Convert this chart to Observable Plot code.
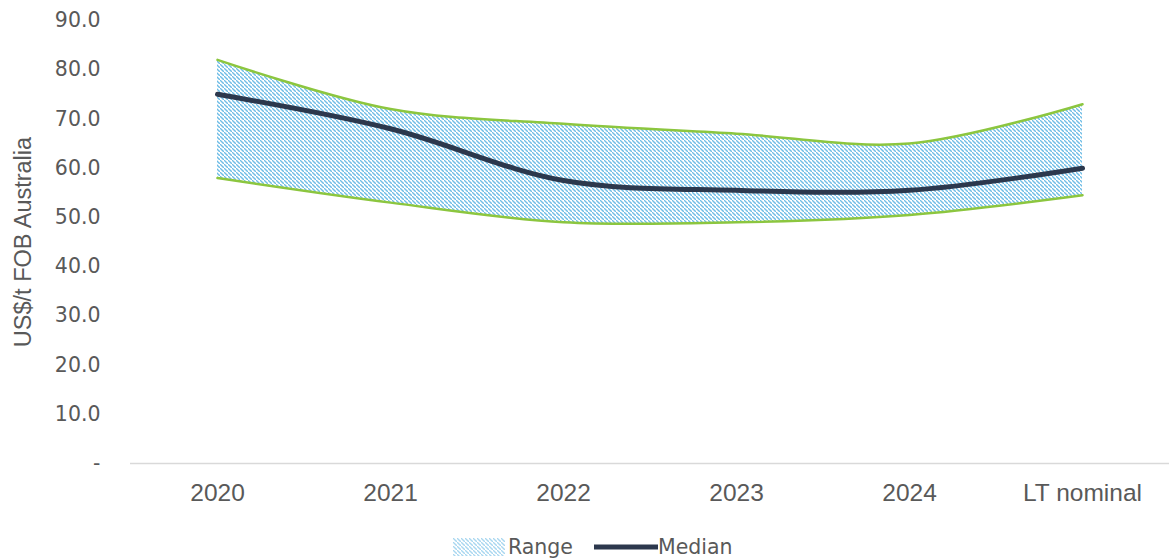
<!DOCTYPE html>
<html>
<head>
<meta charset="utf-8">
<script src="https://cdn.jsdelivr.net/npm/d3@7"></script>
<script src="https://cdn.jsdelivr.net/npm/@observablehq/plot@0.6"></script>
<style>
  html, body { margin: 0; padding: 0; background: #fff; }
  #wrap { position: relative; width: 1169px; height: 558px; overflow: hidden; }
  #legend { position: absolute; top: 536px; left: 453px; display: flex; align-items: center; height: 22px;
    font-family: "DejaVu Sans", Verdana, sans-serif; font-size: 20.5px; color: #595959; }
  #legend .item { display: flex; align-items: center; }
  #legend svg { display: block; }
</style>
</head>
<body>
<div id="wrap">
  <div id="chart"></div>
  <div id="legend">
    <div class="item"><svg width="52" height="18"><defs><pattern id="hatchL" patternUnits="userSpaceOnUse" width="4" height="4"><rect width="4" height="4" fill="#fff"/><path d="M-1,-1 l2,2 M0,0 l4,4 M3,3 l2,2" stroke="#6fbde6" stroke-width="1.4"/></pattern></defs><rect width="52" height="18" fill="url(#hatchL)" opacity="0.6"/></svg><span style="margin-left:3px">Range</span></div>
    <div class="item" style="margin-left:21px"><svg width="64" height="18"><line x1="0" x2="64" y1="9" y2="9" stroke="#2c384d" stroke-width="5"/></svg><span>Median</span></div>
  </div>
</div>
<script>
const categories = ["2020", "2021", "2022", "2023", "2024", "LT nominal"];
const upper  = [82, 72, 69, 67, 65, 73];
const median = [75, 68, 57.5, 55.5, 55.5, 60];
const lower  = [58, 53, 49, 49, 50.5, 54.5];
const yTicks = [0, 10, 20, 30, 40, 50, 60, 70, 80, 90];
const yLabel = "US$/t FOB Australia";

const rows = categories.map((c, i) => ({cat: c, hi: upper[i], mid: median[i], lo: lower[i]}));
const curve = "catmull-rom";

const chart = Plot.plot({
  width: 1169,
  height: 524,
  marginTop: 20,
  marginBottom: 61,
  marginLeft: 130,
  marginRight: 0,
  x: {type: "point", domain: categories, padding: 0.5},
  y: {domain: [0, 90]},
  marks: [
    Plot.areaY(rows, {x: "cat", y1: "lo", y2: "hi", fill: "url(#hatch)", curve}),
    Plot.line(rows, {x: "cat", y: "hi", stroke: "#8cc63f", strokeWidth: 2.5, curve}),
    Plot.line(rows, {x: "cat", y: "lo", stroke: "#8cc63f", strokeWidth: 2.5, curve}),
    Plot.line(rows, {x: "cat", y: "mid", stroke: "#2c384d", strokeWidth: 5, curve}),
    Plot.ruleY([0], {stroke: "#d9d9d9", strokeWidth: 1.5}),
    Plot.axisY({ticks: yTicks, tickSize: 0, tickPadding: 30, label: null,
      tickFormat: d => d === 0 ? "-" : d.toFixed(1),
      fontFamily: "DejaVu Sans, Verdana, sans-serif", fontSize: 20.5, fill: "#595959"}),
    Plot.axisX({tickSize: 0, tickPadding: 20, label: null,
      fontFamily: "Liberation Sans, Arial, sans-serif", fontSize: 24.5, fill: "#595959"}),
    Plot.text([yLabel], {frameAnchor: "left", textAnchor: "middle", rotate: -90, dx: -107, text: d => d,
      fontFamily: "Liberation Sans, Arial, sans-serif", fontSize: 23.5, fill: "#595959"})
  ]
});

const svg = chart.tagName.toLowerCase() === "svg" ? chart : chart.querySelector("svg");
const ns = "http://www.w3.org/2000/svg";
const defs = document.createElementNS(ns, "defs");
defs.innerHTML = '<pattern id="hatch" patternUnits="userSpaceOnUse" width="4" height="4">' +
  '<rect width="4" height="4" fill="#fff"/>' +
  '<path d="M-1,-1 l2,2 M0,0 l4,4 M3,3 l2,2" stroke="#6fbde6" stroke-width="1.4"/></pattern>';
svg.insertBefore(defs, svg.firstChild);
document.getElementById("chart").appendChild(chart);
</script>
</body>
</html>
